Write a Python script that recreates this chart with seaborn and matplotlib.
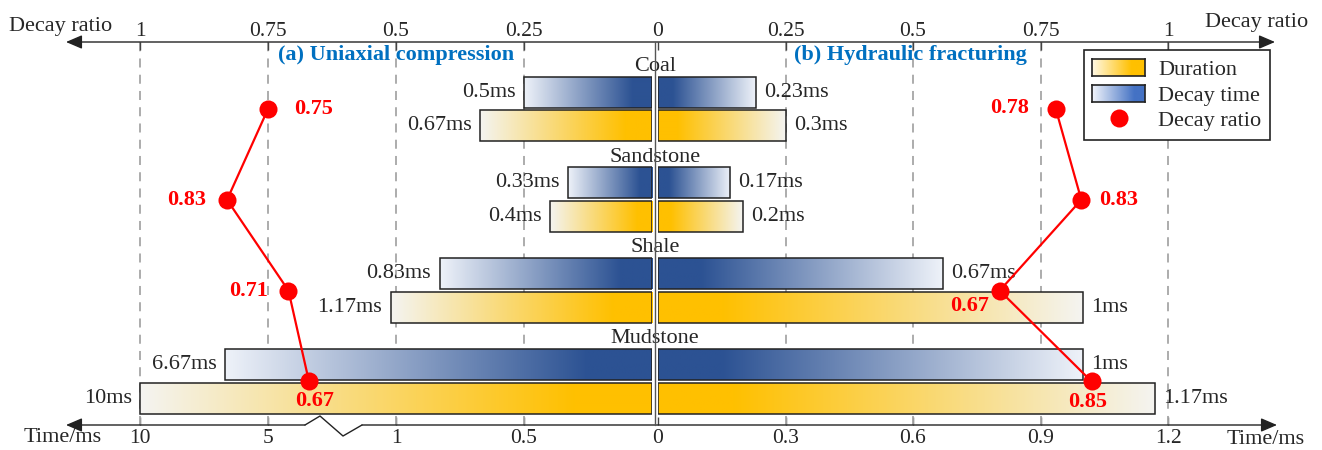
import numpy as np
import pandas as pd
import matplotlib
matplotlib.use('Agg')
import matplotlib.pyplot as plt
import matplotlib.transforms as mtransforms
from matplotlib.lines import Line2D
from matplotlib.patches import Patch, FancyArrowPatch
import seaborn as sns


# %% data
rocks = ['Coal', 'Sandstone', 'Shale', 'Mudstone']

# (a) uniaxial compression -> left half
uc_decay_time = [0.5, 0.33, 0.83, 6.67]     # ms
uc_duration = [0.67, 0.4, 1.17, 10]         # ms
uc_decay_ratio = [0.75, 0.83, 0.71, 0.67]

# (b) hydraulic fracturing -> right half
hf_decay_time = [0.23, 0.17, 0.67, 1]       # ms
hf_duration = [0.3, 0.2, 1, 1.17]           # ms
hf_decay_ratio = [0.78, 0.83, 0.67, 0.85]

uc_time_ticks = [0.5, 1, 5, 10]
hf_time_ticks = [0, 0.3, 0.6, 0.9, 1.2]
uc_ratio_ticks = [0.25, 0.5, 0.75, 1]
hf_ratio_ticks = [0, 0.25, 0.5, 0.75, 1]


# %% layout helpers
W, H = 1322, 450


def fpx(x, y):
    # figure pixel -> figure fraction
    return (x / W, 1 - y / H)


# broken time axis on the left: 0-0.5-1 | 1-5 squeezed | 5-10
BREAK_T = [0, 0.5, 1, 5, 10, 20]
BREAK_U = [0, 1, 2, 3, 4, 6]


def fwd(t):
    return np.interp(t, BREAK_T, BREAK_U)


def inv(u):
    return np.interp(u, BREAK_U, BREAK_T)


def ramp(base, outer, n=256, solid=0.15):
    base = np.array(matplotlib.colors.to_rgb(base))
    outer = np.array(matplotlib.colors.to_rgb(outer))
    s = np.linspace(0, 1, n)
    w = np.clip((s - solid) / (1 - solid), 0, 1)
    return (1 - w)[:, None] * base + w[:, None] * outer


BLUE, BLUE_OUT = '#2C5293', '#EEF2F9'
GOLD, GOLD_OUT = '#FFC000', '#F4F4F1'
FS = 16
TICK_FS = 15.5


# %% figure
sns.set_style('white')
plt.rcParams['font.family'] = ['Liberation Serif', 'DejaVu Serif']

fig = plt.figure(figsize=(W / 100, H / 100), dpi=100)
y_top, y_bot = 42, 425
ax_b, ax_h = 1 - y_bot / H, (y_bot - y_top) / H
ax_l = fig.add_axes([0, ax_b, 652 / W, ax_h])
ax_r = fig.add_axes([658 / W, ax_b, 664 / W, ax_h])

pos = np.arange(len(rocks), dtype=float)


def long_table(decay, dur):
    return pd.DataFrame({
        'pos': np.concatenate([pos, pos]),
        'time': list(decay) + list(dur),
        'metric': ['Decay time'] * len(decay) + ['Duration'] * len(dur),
    })


for ax, decay, dur in [(ax_l, uc_decay_time, uc_duration),
                       (ax_r, hf_decay_time, hf_duration)]:
    sns.barplot(data=long_table(decay, dur), x='time', y='pos', hue='metric',
                hue_order=['Decay time', 'Duration'], orient='y', native_scale=True,
                width=0.748, gap=0.088, fill=False, palette=['#222222', '#222222'],
                linewidth=1.1, errorbar=None, legend=False, ax=ax)

ylim = ((y_bot - 109) / 90.8, (y_top - 109) / 90.8)

ax_l.set_xscale('function', functions=(fwd, inv))
ax_l.set_xlim(inv(652 / 128), 0)
ax_r.set_xlim(0, 664 / 425)
for ax in (ax_l, ax_r):
    ax.set_ylim(*ylim)

# twin axes carry the decay ratio scale (top)
ax_l2 = ax_l.twiny()
ax_r2 = ax_r.twiny()
ax_l2.set_xlim(652 / 128 / 4, 0)
ax_r2.set_xlim(0, 664 / 425 / 1.2)

# gradient fill of the bars
for ax, inner_right in [(ax_l, True), (ax_r, False)]:
    to_axes = ax.transData + ax.transAxes.inverted()
    for p in list(ax.patches):
        p.set_zorder(3)
        yc = p.get_y() + p.get_height() / 2
        is_decay = yc < round(yc)
        grad = ramp(BLUE, BLUE_OUT) if is_decay else ramp(GOLD, GOLD_OUT)
        if inner_right:
            grad = grad[::-1]
        (xa, ya), (xb, yb) = to_axes.transform(
            [[p.get_x(), p.get_y()], [p.get_x() + p.get_width(), p.get_y() + p.get_height()]])
        ax.imshow(grad[None, :, :], extent=(min(xa, xb), max(xa, xb), min(ya, yb), max(ya, yb)),
                  transform=ax.transAxes, aspect='auto', interpolation='bilinear', zorder=2)
        # value label
        t = p.get_width()
        ax.annotate(f'{t:g}ms', xy=(t, yc), xytext=(-6 if inner_right else 6, 0),
                    textcoords='offset points', ha='right' if inner_right else 'left',
                    va='center', fontsize=FS)

ax_l.set_xlim(inv(652 / 128), 0)
ax_r.set_xlim(0, 664 / 425)
for ax in (ax_l, ax_r):
    ax.set_ylim(*ylim)

# dashed guides at the tick positions
for t in uc_time_ticks:
    ax_l.axvline(t, color='#A6A6A6', ls=(0, (5, 4)), lw=1.3, zorder=1)
for t in hf_time_ticks[1:]:
    ax_r.axvline(t, color='#A6A6A6', ls=(0, (5, 4)), lw=1.3, zorder=1)

# decay ratio lines
uc_lab_off = [((19, 0), 'left'), ((-15, 0), 'right'), ((-15, 0), 'right'), ((4, -14), 'center')]
hf_lab_off = [((-19, 1), 'right'), ((13, 0), 'left'), ((-22, -11), 'center'), ((-3, -15), 'center')]
for ax, ratio, offs in [(ax_l2, uc_decay_ratio, uc_lab_off), (ax_r2, hf_decay_ratio, hf_lab_off)]:
    sns.lineplot(x=ratio, y=pos, orient='y', sort=False, estimator=None, ax=ax,
                 color='red', lw=1.6, marker='o', markersize=13, markeredgewidth=0)
    for r, k, (off, ha) in zip(ratio, pos, offs):
        ax.annotate(f'{r:.2f}', xy=(r, k), xytext=off, textcoords='offset points',
                    ha=ha, va='center', color='red', fontweight='bold', fontsize=FS)

# ticks
ax_l.set_xticks(uc_time_ticks, [f'{t:g}' for t in uc_time_ticks])
ax_r.set_xticks(hf_time_ticks, [f'{t:g}' for t in hf_time_ticks])
ax_l2.set_xticks(uc_ratio_ticks, [f'{t:g}' for t in uc_ratio_ticks])
ax_r2.set_xticks(hf_ratio_ticks, [f'{t:g}' for t in hf_ratio_ticks])
for ax in (ax_l, ax_r):
    ax.tick_params(axis='x', bottom=True, top=False, labelbottom=True, labeltop=False,
                   direction='in', length=6, width=1, color='#444444', pad=3, labelsize=TICK_FS)
for ax in (ax_l2, ax_r2):
    ax.tick_params(axis='x', bottom=False, top=True, labelbottom=False, labeltop=True,
                   direction='in', length=6, width=1, color='#444444', pad=1, labelsize=TICK_FS)
for ax in (ax_l, ax_r, ax_l2, ax_r2):
    ax.set_yticks([])
    ax.set_xlabel('')
    ax.set_ylabel('')
    ax.spines[:].set_visible(False)
    ax.patch.set_visible(False)

# rock names on the centre line
blend = mtransforms.blended_transform_factory(fig.transFigure, ax_l.transData)
for k, name in zip(pos, rocks):
    ax_l.text(655 / W, k - 0.47, name, transform=blend, ha='center', va='center', fontsize=FS)

# axis lines with arrows
ac = '#222222'
fig.add_artist(FancyArrowPatch(fpx(1275, y_top), fpx(66, y_top), transform=fig.transFigure,
                               arrowstyle='<|-|>,head_length=0.7,head_width=0.3',
                               mutation_scale=14, color=ac, lw=1, shrinkA=0, shrinkB=0))
fig.add_artist(FancyArrowPatch(fpx(305, y_bot), fpx(66, y_bot), transform=fig.transFigure,
                               arrowstyle='-|>,head_length=0.7,head_width=0.3',
                               mutation_scale=14, color=ac, lw=1, shrinkA=0, shrinkB=0))
zig = [fpx(305, y_bot), fpx(320, y_bot - 9), fpx(343, y_bot + 11), fpx(362, y_bot)]
fig.add_artist(Line2D([p[0] for p in zig], [p[1] for p in zig], transform=fig.transFigure,
                      color=ac, lw=1))
fig.add_artist(FancyArrowPatch(fpx(362, y_bot), fpx(1277, y_bot), transform=fig.transFigure,
                               arrowstyle='-|>,head_length=0.7,head_width=0.3',
                               mutation_scale=14, color=ac, lw=1, shrinkA=0, shrinkB=0))
fig.add_artist(Line2D([655 / W, 655 / W], [1 - y_top / H, 1 - y_bot / H],
                      transform=fig.transFigure, color='#555555', lw=1))

# axis names and panel titles
fig.text(*fpx(61, 27), 'Decay ratio', ha='center', va='center', fontsize=FS)
fig.text(*fpx(1257, 22), 'Decay ratio', ha='center', va='center', fontsize=FS)
fig.text(*fpx(63, 438), 'Time/ms', ha='center', va='center', fontsize=FS)
fig.text(*fpx(1266, 439), 'Time/ms', ha='center', va='center', fontsize=FS)
fig.text(*fpx(396, 55), '(a) Uniaxial compression', ha='center', va='center',
         fontsize=FS, fontweight='bold', color='#0070C0')
fig.text(*fpx(910, 55), '(b) Hydraulic fracturing', ha='center', va='center',
         fontsize=FS, fontweight='bold', color='#0070C0')

# legend
handles = [Patch(facecolor='none', edgecolor='none', label='Duration'),
           Patch(facecolor='none', edgecolor='none', label='Decay time'),
           Line2D([], [], ls='', marker='o', color='red', markersize=13,
                  markeredgewidth=0, label='Decay ratio')]
leg = ax_r2.legend(handles=handles, loc='upper right', bbox_to_anchor=fpx(1270, 50),
                   bbox_transform=fig.transFigure, frameon=True, fancybox=False,
                   edgecolor='#222222', framealpha=1, fontsize=FS, handlelength=2.35,
                   handleheight=0.8, handletextpad=0.6, labelspacing=0.2,
                   borderpad=0.4, borderaxespad=0)
leg.get_frame().set_linewidth(1.2)

fig.canvas.draw()
rend = fig.canvas.get_renderer()
leg_grads = [ramp(GOLD, '#FFF9E6', solid=0.25)[::-1], ramp('#4472C4', '#F2F5FB', solid=0.2)[::-1]]
for h, g in zip(leg.legend_handles[:2], leg_grads):
    bb = h.get_window_extent(rend).transformed(fig.transFigure.inverted())
    cax = fig.add_axes(bb.bounds)
    cax.imshow(g[None, :, :], aspect='auto', interpolation='bilinear', extent=(0, 1, 0, 1))
    cax.set_xticks([])
    cax.set_yticks([])
    for s in cax.spines.values():
        s.set_linewidth(1.2)
        s.set_color('#222222')

fig.savefig('out.png', dpi=100)
